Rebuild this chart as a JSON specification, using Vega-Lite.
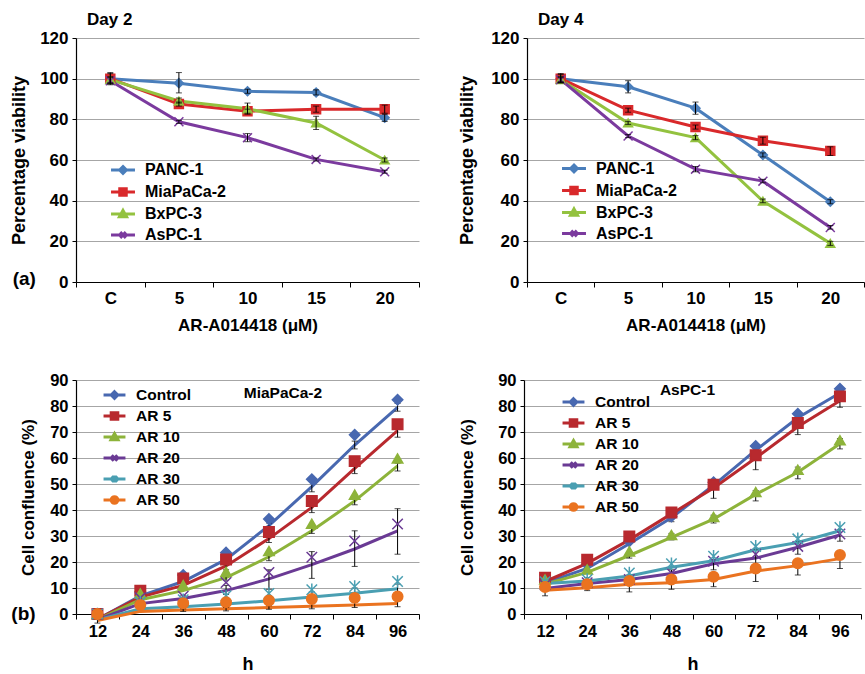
{
  "$schema": "https://vega.github.io/schema/vega-lite/v6.json",
  "padding": {"left": 10, "top": 11, "right": 0, "bottom": 0},
  "background": "white",
  "config": {
    "font": "Liberation Sans",
    "view": {"stroke": null},
    "axis": {"labelFont": "Liberation Sans", "labelFontWeight": "bold", "labelFontSize": 17, "labelColor": "#000", "titleFont": "Liberation Sans", "titleFontWeight": "bold", "titleColor": "#000", "domainColor": "#000", "domainWidth": 1.2, "tickColor": "#000", "gridColor": "#A6A6A6", "gridWidth": 1},
    "legend": {"labelFont": "Liberation Sans", "labelFontWeight": "bold", "labelFontSize": 16, "labelColor": "#000", "symbolSize": 441, "symbolStrokeWidth": 3, "labelOffset": 10, "rowPadding": 0, "orient": "none"},
    "title": {"font": "Liberation Sans", "fontWeight": "bold", "color": "#000"}
  },
  "datasets": {
    "d2": [
      {"s": "PANC-1", "c": "C", "v": 100, "lo": 97, "hi": 103},
      {"s": "PANC-1", "c": "5", "v": 97.8, "lo": 93, "hi": 103},
      {"s": "PANC-1", "c": "10", "v": 93.8, "lo": 92.8, "hi": 94.8},
      {"s": "PANC-1", "c": "15", "v": 93.2, "lo": 92, "hi": 94.5},
      {"s": "PANC-1", "c": "20", "v": 80.8, "lo": 79, "hi": 82.5},
      {"s": "MiaPaCa-2", "c": "C", "v": 100, "lo": 97.5, "hi": 102.5},
      {"s": "MiaPaCa-2", "c": "5", "v": 87.5, "lo": 86.5, "hi": 88.5},
      {"s": "MiaPaCa-2", "c": "10", "v": 84, "lo": 83, "hi": 85},
      {"s": "MiaPaCa-2", "c": "15", "v": 85, "lo": 83.5, "hi": 86.5},
      {"s": "MiaPaCa-2", "c": "20", "v": 85, "lo": 83, "hi": 87},
      {"s": "BxPC-3", "c": "C", "v": 99.5, "lo": 98, "hi": 101},
      {"s": "BxPC-3", "c": "5", "v": 89, "lo": 88, "hi": 90.5},
      {"s": "BxPC-3", "c": "10", "v": 85.2, "lo": 82.5, "hi": 88},
      {"s": "BxPC-3", "c": "15", "v": 78.2, "lo": 75, "hi": 81.5},
      {"s": "BxPC-3", "c": "20", "v": 60, "lo": 59, "hi": 61},
      {"s": "AsPC-1", "c": "C", "v": 99, "lo": 97.5, "hi": 100.5},
      {"s": "AsPC-1", "c": "5", "v": 78.8, "lo": 78, "hi": 79.5},
      {"s": "AsPC-1", "c": "10", "v": 71, "lo": 69, "hi": 73},
      {"s": "AsPC-1", "c": "15", "v": 60.3, "lo": 59.5, "hi": 61},
      {"s": "AsPC-1", "c": "20", "v": 54.2, "lo": 53.5, "hi": 55}
    ],
    "d4": [
      {"s": "PANC-1", "c": "C", "v": 100, "lo": 98, "hi": 102.5},
      {"s": "PANC-1", "c": "5", "v": 96, "lo": 93, "hi": 99},
      {"s": "PANC-1", "c": "10", "v": 85.5, "lo": 82.5, "hi": 88.5},
      {"s": "PANC-1", "c": "15", "v": 62.5, "lo": 61.5, "hi": 63.5},
      {"s": "PANC-1", "c": "20", "v": 39.5, "lo": 38.5, "hi": 40.5},
      {"s": "MiaPaCa-2", "c": "C", "v": 100, "lo": 98, "hi": 102},
      {"s": "MiaPaCa-2", "c": "5", "v": 84.5, "lo": 83.5, "hi": 85.5},
      {"s": "MiaPaCa-2", "c": "10", "v": 76.2, "lo": 75.2, "hi": 77.2},
      {"s": "MiaPaCa-2", "c": "15", "v": 69.5, "lo": 67.8, "hi": 71.2},
      {"s": "MiaPaCa-2", "c": "20", "v": 64.5, "lo": 62.2, "hi": 66.5},
      {"s": "BxPC-3", "c": "C", "v": 99.5, "lo": 98.5, "hi": 100.5},
      {"s": "BxPC-3", "c": "5", "v": 78.2, "lo": 77.5, "hi": 79},
      {"s": "BxPC-3", "c": "10", "v": 71, "lo": 70, "hi": 72},
      {"s": "BxPC-3", "c": "15", "v": 39.8, "lo": 39, "hi": 40.8},
      {"s": "BxPC-3", "c": "20", "v": 19, "lo": 18, "hi": 20},
      {"s": "AsPC-1", "c": "C", "v": 99.5, "lo": 98, "hi": 101},
      {"s": "AsPC-1", "c": "5", "v": 71.8, "lo": 71, "hi": 72.5},
      {"s": "AsPC-1", "c": "10", "v": 55.5, "lo": 54.2, "hi": 56.8},
      {"s": "AsPC-1", "c": "15", "v": 49.6, "lo": 48.8, "hi": 50.5},
      {"s": "AsPC-1", "c": "20", "v": 26.8, "lo": 26, "hi": 27.8}
    ],
    "mia": [
      {"s": "Control", "h": 12, "v": 0, "f": -2},
      {"s": "Control", "h": 24, "v": 8.5, "f": 7},
      {"s": "Control", "h": 36, "v": 15, "f": 12.5},
      {"s": "Control", "h": 48, "v": 23.6, "f": 21},
      {"s": "Control", "h": 60, "v": 36.5, "f": 34},
      {"s": "Control", "h": 72, "v": 51.8, "f": 49},
      {"s": "Control", "h": 84, "v": 68.9, "f": 65},
      {"s": "Control", "h": 96, "v": 82.4, "f": 79.5},
      {"s": "AR 5", "h": 12, "v": 0, "f": -2},
      {"s": "AR 5", "h": 24, "v": 8.9, "f": 6.5},
      {"s": "AR 5", "h": 36, "v": 13.7, "f": 11},
      {"s": "AR 5", "h": 48, "v": 21, "f": 18.5},
      {"s": "AR 5", "h": 60, "v": 31.5, "f": 29},
      {"s": "AR 5", "h": 72, "v": 43.5, "f": 41},
      {"s": "AR 5", "h": 84, "v": 58.8, "f": 56},
      {"s": "AR 5", "h": 96, "v": 73, "f": 70.5},
      {"s": "AR 10", "h": 12, "v": 0, "f": -2.2},
      {"s": "AR 10", "h": 24, "v": 7.9, "f": 5.5},
      {"s": "AR 10", "h": 36, "v": 11.1, "f": 9},
      {"s": "AR 10", "h": 48, "v": 16.2, "f": 14},
      {"s": "AR 10", "h": 60, "v": 24.2, "f": 22},
      {"s": "AR 10", "h": 72, "v": 34.7, "f": 32},
      {"s": "AR 10", "h": 84, "v": 45.9, "f": 43.5},
      {"s": "AR 10", "h": 96, "v": 59.8, "f": 57},
      {"s": "AR 20", "h": 12, "v": 0, "f": -2.2},
      {"s": "AR 20", "h": 24, "v": 6.2, "f": 4},
      {"s": "AR 20", "h": 36, "v": 6.8, "f": 6},
      {"s": "AR 20", "h": 48, "v": 12.1, "f": 9},
      {"s": "AR 20", "h": 60, "v": 16, "f": 13.5},
      {"s": "AR 20", "h": 72, "v": 21.8, "f": 19},
      {"s": "AR 20", "h": 84, "v": 28.1, "f": 25},
      {"s": "AR 20", "h": 96, "v": 34.6, "f": 32},
      {"s": "AR 30", "h": 12, "v": 0, "f": -2.3},
      {"s": "AR 30", "h": 24, "v": 4.5, "f": 2},
      {"s": "AR 30", "h": 36, "v": 5.5, "f": 2.8},
      {"s": "AR 30", "h": 48, "v": 7, "f": 3.8},
      {"s": "AR 30", "h": 60, "v": 7.9, "f": 5.1},
      {"s": "AR 30", "h": 72, "v": 9.3, "f": 6.5},
      {"s": "AR 30", "h": 84, "v": 10.6, "f": 8},
      {"s": "AR 30", "h": 96, "v": 12.5, "f": 9.7},
      {"s": "AR 50", "h": 12, "v": 0, "f": -2.5},
      {"s": "AR 50", "h": 24, "v": 3.5, "f": 1},
      {"s": "AR 50", "h": 36, "v": 4.1, "f": 1.5},
      {"s": "AR 50", "h": 48, "v": 4.5, "f": 2},
      {"s": "AR 50", "h": 60, "v": 5.2, "f": 2.5},
      {"s": "AR 50", "h": 72, "v": 5.8, "f": 3},
      {"s": "AR 50", "h": 84, "v": 6.2, "f": 3.5},
      {"s": "AR 50", "h": 96, "v": 6.7, "f": 4}
    ],
    "miaErr": [
      {"s": "Control", "h": 48, "lo": 20, "hi": 22},
      {"s": "Control", "h": 60, "lo": 33, "hi": 35},
      {"s": "Control", "h": 72, "lo": 47, "hi": 51},
      {"s": "Control", "h": 84, "lo": 63.5, "hi": 66.5},
      {"s": "Control", "h": 96, "lo": 78, "hi": 81},
      {"s": "AR 5", "h": 48, "lo": 17, "hi": 19},
      {"s": "AR 5", "h": 60, "lo": 27.5, "hi": 30},
      {"s": "AR 5", "h": 72, "lo": 39, "hi": 42},
      {"s": "AR 5", "h": 84, "lo": 54, "hi": 57.5},
      {"s": "AR 5", "h": 96, "lo": 68, "hi": 71},
      {"s": "AR 10", "h": 48, "lo": 13, "hi": 15},
      {"s": "AR 10", "h": 60, "lo": 20.5, "hi": 23},
      {"s": "AR 10", "h": 72, "lo": 31, "hi": 33.5},
      {"s": "AR 10", "h": 84, "lo": 42, "hi": 44.5},
      {"s": "AR 10", "h": 96, "lo": 55, "hi": 58},
      {"s": "AR 20", "h": 36, "lo": 5, "hi": 7},
      {"s": "AR 20", "h": 48, "lo": 7.5, "hi": 11},
      {"s": "AR 20", "h": 60, "lo": 9.5, "hi": 17},
      {"s": "AR 20", "h": 72, "lo": 13.7, "hi": 24},
      {"s": "AR 20", "h": 84, "lo": 18.3, "hi": 32},
      {"s": "AR 20", "h": 96, "lo": 23, "hi": 40.5},
      {"s": "AR 30", "h": 48, "lo": 2.5, "hi": 5},
      {"s": "AR 30", "h": 60, "lo": 3.5, "hi": 7},
      {"s": "AR 30", "h": 72, "lo": 5, "hi": 8.5},
      {"s": "AR 30", "h": 84, "lo": 6.5, "hi": 10},
      {"s": "AR 30", "h": 96, "lo": 8, "hi": 11.5},
      {"s": "AR 50", "h": 12, "lo": -3.5, "hi": -1},
      {"s": "AR 50", "h": 36, "lo": 1, "hi": 2},
      {"s": "AR 50", "h": 48, "lo": 1.2, "hi": 2.5},
      {"s": "AR 50", "h": 60, "lo": 1.8, "hi": 3.2},
      {"s": "AR 50", "h": 72, "lo": 2, "hi": 4},
      {"s": "AR 50", "h": 84, "lo": 2.5, "hi": 4.5},
      {"s": "AR 50", "h": 96, "lo": 2.8, "hi": 5}
    ],
    "as": [
      {"s": "Control", "h": 12, "v": 13, "f": 12},
      {"s": "Control", "h": 24, "v": 19, "f": 17.5},
      {"s": "Control", "h": 36, "v": 28, "f": 27},
      {"s": "Control", "h": 48, "v": 37.5, "f": 37},
      {"s": "Control", "h": 60, "v": 50.7, "f": 49.5},
      {"s": "Control", "h": 72, "v": 64.6, "f": 63},
      {"s": "Control", "h": 84, "v": 77, "f": 75.5},
      {"s": "Control", "h": 96, "v": 86.6, "f": 85},
      {"s": "AR 5", "h": 12, "v": 13.9, "f": 12.5},
      {"s": "AR 5", "h": 24, "v": 20.9, "f": 19.5},
      {"s": "AR 5", "h": 36, "v": 29.8, "f": 28.5},
      {"s": "AR 5", "h": 48, "v": 39, "f": 38.5},
      {"s": "AR 5", "h": 60, "v": 49.7, "f": 48.5},
      {"s": "AR 5", "h": 72, "v": 61.1, "f": 60},
      {"s": "AR 5", "h": 84, "v": 73.5, "f": 72},
      {"s": "AR 5", "h": 96, "v": 83.7, "f": 82},
      {"s": "AR 10", "h": 12, "v": 13.3, "f": 11.5},
      {"s": "AR 10", "h": 24, "v": 17.1, "f": 16},
      {"s": "AR 10", "h": 36, "v": 24.1, "f": 22.5},
      {"s": "AR 10", "h": 48, "v": 30.4, "f": 29.5},
      {"s": "AR 10", "h": 60, "v": 37.3, "f": 36.5},
      {"s": "AR 10", "h": 72, "v": 46.9, "f": 46},
      {"s": "AR 10", "h": 84, "v": 55.5, "f": 54.5},
      {"s": "AR 10", "h": 96, "v": 66.8, "f": 65.5},
      {"s": "AR 20", "h": 12, "v": 11.2, "f": 9.8},
      {"s": "AR 20", "h": 24, "v": 12, "f": 11.7},
      {"s": "AR 20", "h": 36, "v": 13.3, "f": 13.3},
      {"s": "AR 20", "h": 48, "v": 15.8, "f": 15.6},
      {"s": "AR 20", "h": 60, "v": 20.3, "f": 19.3},
      {"s": "AR 20", "h": 72, "v": 23, "f": 21.5},
      {"s": "AR 20", "h": 84, "v": 26, "f": 25.7},
      {"s": "AR 20", "h": 96, "v": 30.8, "f": 30.4},
      {"s": "AR 30", "h": 12, "v": 12.4, "f": 11.7},
      {"s": "AR 30", "h": 24, "v": 13.3, "f": 12.7},
      {"s": "AR 30", "h": 36, "v": 15.8, "f": 14.6},
      {"s": "AR 30", "h": 48, "v": 19.3, "f": 18},
      {"s": "AR 30", "h": 60, "v": 22.2, "f": 20.5},
      {"s": "AR 30", "h": 72, "v": 26, "f": 24.7},
      {"s": "AR 30", "h": 84, "v": 28.9, "f": 27.5},
      {"s": "AR 30", "h": 96, "v": 33.3, "f": 32},
      {"s": "AR 50", "h": 12, "v": 10.4, "f": 9.1},
      {"s": "AR 50", "h": 24, "v": 11.4, "f": 10.1},
      {"s": "AR 50", "h": 36, "v": 12.7, "f": 11.4},
      {"s": "AR 50", "h": 48, "v": 13.3, "f": 12},
      {"s": "AR 50", "h": 60, "v": 14.3, "f": 13.3},
      {"s": "AR 50", "h": 72, "v": 17.5, "f": 16.5},
      {"s": "AR 50", "h": 84, "v": 19.5, "f": 18.6},
      {"s": "AR 50", "h": 96, "v": 22.7, "f": 21.3}
    ],
    "asErr": [
      {"s": "Control", "h": 48, "lo": 35.5, "hi": 38.5},
      {"s": "Control", "h": 60, "lo": 44.5, "hi": 50},
      {"s": "Control", "h": 72, "lo": 55.5, "hi": 62.5},
      {"s": "Control", "h": 84, "lo": 69, "hi": 75},
      {"s": "Control", "h": 96, "lo": 79.5, "hi": 85},
      {"s": "AR 10", "h": 36, "lo": 21.5, "hi": 24},
      {"s": "AR 10", "h": 48, "lo": 28.5, "hi": 31},
      {"s": "AR 10", "h": 60, "lo": 35, "hi": 38},
      {"s": "AR 10", "h": 72, "lo": 43.5, "hi": 47.5},
      {"s": "AR 10", "h": 84, "lo": 52, "hi": 56.5},
      {"s": "AR 10", "h": 96, "lo": 63.5, "hi": 67.5},
      {"s": "AR 20", "h": 24, "lo": 11, "hi": 14},
      {"s": "AR 20", "h": 36, "lo": 12, "hi": 15},
      {"s": "AR 20", "h": 48, "lo": 14, "hi": 17},
      {"s": "AR 20", "h": 60, "lo": 17, "hi": 21},
      {"s": "AR 20", "h": 72, "lo": 19, "hi": 25},
      {"s": "AR 20", "h": 84, "lo": 23, "hi": 28},
      {"s": "AR 20", "h": 96, "lo": 28, "hi": 32.5},
      {"s": "AR 50", "h": 12, "lo": 7, "hi": 10},
      {"s": "AR 50", "h": 24, "lo": 9, "hi": 12},
      {"s": "AR 50", "h": 36, "lo": 8.5, "hi": 12},
      {"s": "AR 50", "h": 48, "lo": 9.5, "hi": 13},
      {"s": "AR 50", "h": 60, "lo": 10.5, "hi": 14.5},
      {"s": "AR 50", "h": 72, "lo": 12.5, "hi": 18},
      {"s": "AR 50", "h": 84, "lo": 15, "hi": 20},
      {"s": "AR 50", "h": 96, "lo": 17.5, "hi": 23}
    ]
  },
  "vconcat": [
    {
      "hconcat": [
        {
          "name": "p1",
          "width": 343, "height": 244,
          "title": {"text": "Day 2", "anchor": "start", "frame": "group", "dx": 11, "fontSize": 17, "offset": 0},
          "data": {"name": "d2"},
          "encoding": {
            "x": {"field": "c", "type": "ordinal", "scale": {"domain": ["C", "5", "10", "15", "20"], "paddingInner": 0, "paddingOuter": 0}, "axis": {"title": "AR-A014418 (μM)", "titleFontSize": 17, "titlePadding": 11, "labelAngle": 0, "tickBand": "extent", "tickSize": 5, "labelPadding": 3, "grid": false}},
            "y": {"field": "v", "type": "quantitative", "scale": {"domain": [0, 120], "nice": false}, "axis": {"values": [0, 20, 40, 60, 80, 100, 120], "title": "Percentage viability", "titleFontSize": 18, "titlePadding": 11, "tickSize": 4, "labelPadding": 4, "grid": true}}
          },
          "layer": [
            {"mark": {"type": "line", "strokeWidth": 3},
             "encoding": {"stroke": {"field": "s", "type": "nominal", "scale": {"domain": ["PANC-1", "MiaPaCa-2", "BxPC-3", "AsPC-1"], "range": ["#4A7EBB", "#D9292B", "#93C23F", "#7B3A9E"]}, "legend": null}}},
            {"mark": {"type": "point", "filled": true, "opacity": 1, "size": 80, "strokeWidth": 1.5},
             "encoding": {
               "fill": {"field": "s", "type": "nominal", "scale": {"domain": ["PANC-1", "MiaPaCa-2", "BxPC-3", "AsPC-1"], "range": ["#4A7EBB", "#D9292B", "#93C23F", "#7B3A9E"]}, "legend": null},
               "stroke": {"field": "s", "type": "nominal", "scale": {"domain": ["PANC-1", "MiaPaCa-2", "BxPC-3", "AsPC-1"], "range": ["#4A7EBB", "#D9292B", "#93C23F", "#7B3A9E"]}, "legend": null},
               "shape": {"field": "s", "type": "nominal", "scale": {"domain": ["PANC-1", "MiaPaCa-2", "BxPC-3", "AsPC-1"], "range": ["diamond", "square", "triangle-up", "M-1,-1L1,1M-1,1L1,-1"]}, "legend": null}}},
            {"mark": {"type": "errorbar", "ticks": {"size": 6}, "color": "#000", "thickness": 1},
             "encoding": {"y": {"field": "lo", "type": "quantitative"}, "y2": {"field": "hi"}}},
            {"transform": [{"filter": "false"}],
             "mark": {"type": "point", "filled": true, "opacity": 1},
             "encoding": {
               "fill": {"field": "s", "type": "nominal", "scale": {"domain": ["PANC-1", "MiaPaCa-2", "BxPC-3", "AsPC-1"], "range": ["#4A7EBB", "#D9292B", "#93C23F", "#7B3A9E"]}, "legend": {"title": null, "legendX": 35, "legendY": 120}},
               "stroke": {"field": "s", "type": "nominal", "scale": {"domain": ["PANC-1", "MiaPaCa-2", "BxPC-3", "AsPC-1"], "range": ["#4A7EBB", "#D9292B", "#93C23F", "#7B3A9E"]}, "legend": {"title": null, "legendX": 35, "legendY": 120}},
               "shape": {"field": "s", "type": "nominal", "scale": {"domain": ["PANC-1", "MiaPaCa-2", "BxPC-3", "AsPC-1"], "range": ["M-1.14,0H1.14M0,-0.32L0.32,0L0,0.32L-0.32,0Z", "M-1.14,0H1.14M-0.31,-0.31H0.31V0.31H-0.31Z", "M-1.14,0H1.14M0,-0.34L0.34,0.27H-0.34Z", "M-1.14,0H1.14M-0.27,-0.27L0.27,0.27M-0.27,0.27L0.27,-0.27"]}, "legend": {"title": null, "legendX": 35, "legendY": 120}}}},
            {"data": {"values": [{"t": "(a)", "c": "C", "v": 0}]},
             "mark": {"type": "text", "fontSize": 19, "fontWeight": "bold", "color": "#000", "dx": -86, "dy": -3, "align": "center", "baseline": "middle"},
             "encoding": {"text": {"field": "t"}}}
          ],
          "resolve": {"scale": {"fill": "independent", "stroke": "independent", "shape": "independent"}}
        },
        {
          "name": "p2",
          "width": 337, "height": 244,
          "title": {"text": "Day 4", "anchor": "start", "frame": "group", "dx": 11, "fontSize": 17, "offset": 0},
          "data": {"name": "d4"},
          "encoding": {
            "x": {"field": "c", "type": "ordinal", "scale": {"domain": ["C", "5", "10", "15", "20"], "paddingInner": 0, "paddingOuter": 0}, "axis": {"title": "AR-A014418 (μM)", "titleFontSize": 17, "titlePadding": 11, "labelAngle": 0, "tickBand": "extent", "tickSize": 5, "labelPadding": 3, "grid": false}},
            "y": {"field": "v", "type": "quantitative", "scale": {"domain": [0, 120], "nice": false}, "axis": {"values": [0, 20, 40, 60, 80, 100, 120], "title": "Percentage viability", "titleFontSize": 18, "titlePadding": 14, "tickSize": 4, "labelPadding": 4, "grid": true}}
          },
          "layer": [
            {"mark": {"type": "line", "strokeWidth": 3},
             "encoding": {"stroke": {"field": "s", "type": "nominal", "scale": {"domain": ["PANC-1", "MiaPaCa-2", "BxPC-3", "AsPC-1"], "range": ["#4A7EBB", "#D9292B", "#93C23F", "#7B3A9E"]}, "legend": null}}},
            {"mark": {"type": "point", "filled": true, "opacity": 1, "size": 80, "strokeWidth": 1.5},
             "encoding": {
               "fill": {"field": "s", "type": "nominal", "scale": {"domain": ["PANC-1", "MiaPaCa-2", "BxPC-3", "AsPC-1"], "range": ["#4A7EBB", "#D9292B", "#93C23F", "#7B3A9E"]}, "legend": null},
               "stroke": {"field": "s", "type": "nominal", "scale": {"domain": ["PANC-1", "MiaPaCa-2", "BxPC-3", "AsPC-1"], "range": ["#4A7EBB", "#D9292B", "#93C23F", "#7B3A9E"]}, "legend": null},
               "shape": {"field": "s", "type": "nominal", "scale": {"domain": ["PANC-1", "MiaPaCa-2", "BxPC-3", "AsPC-1"], "range": ["diamond", "square", "triangle-up", "M-1,-1L1,1M-1,1L1,-1"]}, "legend": null}}},
            {"mark": {"type": "errorbar", "ticks": {"size": 6}, "color": "#000", "thickness": 1},
             "encoding": {"y": {"field": "lo", "type": "quantitative"}, "y2": {"field": "hi"}}},
            {"transform": [{"filter": "false"}],
             "mark": {"type": "point", "filled": true, "opacity": 1},
             "encoding": {
               "fill": {"field": "s", "type": "nominal", "scale": {"domain": ["PANC-1", "MiaPaCa-2", "BxPC-3", "AsPC-1"], "range": ["#4A7EBB", "#D9292B", "#93C23F", "#7B3A9E"]}, "legend": {"title": null, "legendX": 35, "legendY": 118.5}},
               "stroke": {"field": "s", "type": "nominal", "scale": {"domain": ["PANC-1", "MiaPaCa-2", "BxPC-3", "AsPC-1"], "range": ["#4A7EBB", "#D9292B", "#93C23F", "#7B3A9E"]}, "legend": {"title": null, "legendX": 35, "legendY": 118.5}},
               "shape": {"field": "s", "type": "nominal", "scale": {"domain": ["PANC-1", "MiaPaCa-2", "BxPC-3", "AsPC-1"], "range": ["M-1.14,0H1.14M0,-0.32L0.32,0L0,0.32L-0.32,0Z", "M-1.14,0H1.14M-0.31,-0.31H0.31V0.31H-0.31Z", "M-1.14,0H1.14M0,-0.34L0.34,0.27H-0.34Z", "M-1.14,0H1.14M-0.27,-0.27L0.27,0.27M-0.27,0.27L0.27,-0.27"]}, "legend": {"title": null, "legendX": 35, "legendY": 118.5}}}}
          ],
          "resolve": {"scale": {"fill": "independent", "stroke": "independent", "shape": "independent"}}
        }
      ],
      "spacing": 38
    },
    {
      "hconcat": [
        {
          "name": "p3",
          "width": 343, "height": 234,
          "encoding": {
            "x": {"field": "h", "type": "ordinal", "scale": {"domain": [12, 24, 36, 48, 60, 72, 84, 96], "paddingInner": 0, "paddingOuter": 0}, "axis": {"title": "h", "titleFontSize": 18, "titlePadding": 16, "labelAngle": 0, "labelFontSize": 16.5, "tickBand": "extent", "tickSize": 5, "labelPadding": 4, "grid": false}},
            "y": {"type": "quantitative", "scale": {"domain": [0, 90], "nice": false}, "axis": {"values": [0, 10, 20, 30, 40, 50, 60, 70, 80, 90], "title": "Cell confluence (%)", "titleFontSize": 17, "titlePadding": 12, "labelFontSize": 16.5, "tickSize": 4, "labelPadding": 4, "grid": true}}
          },
          "layer": [
            {"data": {"name": "mia"},
             "mark": {"type": "line", "strokeWidth": 3},
             "encoding": {"y": {"field": "f", "type": "quantitative"}, "stroke": {"field": "s", "type": "nominal", "scale": {"domain": ["Control", "AR 5", "AR 10", "AR 20", "AR 30", "AR 50"], "range": ["#4868B0", "#B8292E", "#8DB33A", "#6A3A94", "#4A9FB2", "#EA7320"]}, "legend": null}}},
            {"data": {"name": "miaErr"},
             "mark": {"type": "errorbar", "ticks": {"size": 6}, "color": "#000", "thickness": 1},
             "encoding": {"y": {"field": "lo", "type": "quantitative"}, "y2": {"field": "hi"}}},
            {"data": {"name": "mia"},
             "mark": {"type": "point", "filled": true, "opacity": 1, "size": 110, "strokeWidth": 1.5},
             "encoding": {
               "y": {"field": "v", "type": "quantitative"},
               "fill": {"field": "s", "type": "nominal", "scale": {"domain": ["Control", "AR 5", "AR 10", "AR 20", "AR 30", "AR 50"], "range": ["#4868B0", "#B8292E", "#8DB33A", "#6A3A94", "#4A9FB2", "#EA7320"]}, "legend": null},
               "stroke": {"field": "s", "type": "nominal", "scale": {"domain": ["Control", "AR 5", "AR 10", "AR 20", "AR 30", "AR 50"], "range": ["#4868B0", "#B8292E", "#8DB33A", "#6A3A94", "#4A9FB2", "#EA7320"]}, "legend": null},
               "shape": {"field": "s", "type": "nominal", "scale": {"domain": ["Control", "AR 5", "AR 10", "AR 20", "AR 30", "AR 50"], "range": ["diamond", "square", "triangle-up", "M-1,-1L1,1M-1,1L1,-1", "M-1,-1L1,1M-1,1L1,-1M0,-1.2V1.2", "circle"]}, "legend": null}}},
            {"data": {"name": "mia"},
             "transform": [{"filter": "false"}],
             "mark": {"type": "point", "filled": true, "opacity": 1},
             "encoding": {
               "y": {"field": "v", "type": "quantitative"},
               "fill": {"field": "s", "type": "nominal", "scale": {"domain": ["Control", "AR 5", "AR 10", "AR 20", "AR 30", "AR 50"], "range": ["#4868B0", "#B8292E", "#8DB33A", "#6A3A94", "#4A9FB2", "#EA7320"]}, "legend": {"title": null, "legendX": 27, "legendY": 3.5, "symbolSize": 376, "labelFontSize": 15.5}},
               "stroke": {"field": "s", "type": "nominal", "scale": {"domain": ["Control", "AR 5", "AR 10", "AR 20", "AR 30", "AR 50"], "range": ["#4868B0", "#B8292E", "#8DB33A", "#6A3A94", "#4A9FB2", "#EA7320"]}, "legend": {"title": null, "legendX": 27, "legendY": 3.5, "symbolSize": 376, "labelFontSize": 15.5}},
               "shape": {"field": "s", "type": "nominal", "scale": {"domain": ["Control", "AR 5", "AR 10", "AR 20", "AR 30", "AR 50"], "range": ["M-1.13,0H1.13M0,-0.34L0.34,0L0,0.34L-0.34,0Z", "M-1.13,0H1.13M-0.34,-0.34H0.34V0.34H-0.34Z", "M-1.13,0H1.13M0,-0.36L0.36,0.29H-0.36Z", "M-1.13,0H1.13M-0.29,-0.29L0.29,0.29M-0.29,0.29L0.29,-0.29", "M-1.13,0H1.13M-0.29,-0.29L0.29,0.29M-0.29,0.29L0.29,-0.29M0,-0.36V0.36", "M-1.13,0H1.13M0.34,0A0.34,0.34,0,1,1,-0.34,0A0.34,0.34,0,1,1,0.34,0Z"]}, "legend": {"title": null, "legendX": 27, "legendY": 3.5, "symbolSize": 376, "labelFontSize": 15.5}}}},
            {"data": {"values": [{"t": "MiaPaCa-2"}]},
             "mark": {"type": "text", "fontSize": 15.5, "fontWeight": "bold", "color": "#000", "dx": 14, "align": "center", "baseline": "middle"},
             "encoding": {"x": {"datum": 60}, "y": {"datum": 85}, "text": {"field": "t"}}},
            {"data": {"values": [{"t": "(b)", "h": 12, "v": 0}]},
             "mark": {"type": "text", "fontSize": 19, "fontWeight": "bold", "color": "#000", "dx": -74, "align": "center", "baseline": "middle"},
             "encoding": {"y": {"field": "v", "type": "quantitative"}, "text": {"field": "t"}}}
          ],
          "resolve": {"scale": {"fill": "independent", "stroke": "independent", "shape": "independent"}}
        },
        {
          "name": "p4",
          "width": 337, "height": 234,
          "encoding": {
            "x": {"field": "h", "type": "ordinal", "scale": {"domain": [12, 24, 36, 48, 60, 72, 84, 96], "paddingInner": 0, "paddingOuter": 0}, "axis": {"title": "h", "titleFontSize": 18, "titlePadding": 16, "labelAngle": 0, "labelFontSize": 16.5, "tickBand": "extent", "tickSize": 5, "labelPadding": 4, "grid": false}},
            "y": {"type": "quantitative", "scale": {"domain": [0, 90], "nice": false}, "axis": {"values": [0, 10, 20, 30, 40, 50, 60, 70, 80, 90], "title": "Cell confluence (%)", "titleFontSize": 17, "titlePadding": 21, "labelFontSize": 16.5, "tickSize": 4, "labelPadding": 4, "grid": true}}
          },
          "layer": [
            {"data": {"name": "as"},
             "mark": {"type": "line", "strokeWidth": 3},
             "encoding": {"y": {"field": "f", "type": "quantitative"}, "stroke": {"field": "s", "type": "nominal", "scale": {"domain": ["Control", "AR 5", "AR 10", "AR 20", "AR 30", "AR 50"], "range": ["#4868B0", "#B8292E", "#8DB33A", "#6A3A94", "#4A9FB2", "#EA7320"]}, "legend": null}}},
            {"data": {"name": "asErr"},
             "mark": {"type": "errorbar", "ticks": {"size": 6}, "color": "#000", "thickness": 1},
             "encoding": {"y": {"field": "lo", "type": "quantitative"}, "y2": {"field": "hi"}}},
            {"data": {"name": "as"},
             "mark": {"type": "point", "filled": true, "opacity": 1, "size": 110, "strokeWidth": 1.5},
             "encoding": {
               "y": {"field": "v", "type": "quantitative"},
               "fill": {"field": "s", "type": "nominal", "scale": {"domain": ["Control", "AR 5", "AR 10", "AR 20", "AR 30", "AR 50"], "range": ["#4868B0", "#B8292E", "#8DB33A", "#6A3A94", "#4A9FB2", "#EA7320"]}, "legend": null},
               "stroke": {"field": "s", "type": "nominal", "scale": {"domain": ["Control", "AR 5", "AR 10", "AR 20", "AR 30", "AR 50"], "range": ["#4868B0", "#B8292E", "#8DB33A", "#6A3A94", "#4A9FB2", "#EA7320"]}, "legend": null},
               "shape": {"field": "s", "type": "nominal", "scale": {"domain": ["Control", "AR 5", "AR 10", "AR 20", "AR 30", "AR 50"], "range": ["diamond", "square", "triangle-up", "M-1,-1L1,1M-1,1L1,-1", "M-1,-1L1,1M-1,1L1,-1M0,-1.2V1.2", "circle"]}, "legend": null}}},
            {"data": {"name": "as"},
             "transform": [{"filter": "false"}],
             "mark": {"type": "point", "filled": true, "opacity": 1},
             "encoding": {
               "y": {"field": "v", "type": "quantitative"},
               "fill": {"field": "s", "type": "nominal", "scale": {"domain": ["Control", "AR 5", "AR 10", "AR 20", "AR 30", "AR 50"], "range": ["#4868B0", "#B8292E", "#8DB33A", "#6A3A94", "#4A9FB2", "#EA7320"]}, "legend": {"title": null, "legendX": 38, "legendY": 10.5, "symbolSize": 376, "labelFontSize": 15.5}},
               "stroke": {"field": "s", "type": "nominal", "scale": {"domain": ["Control", "AR 5", "AR 10", "AR 20", "AR 30", "AR 50"], "range": ["#4868B0", "#B8292E", "#8DB33A", "#6A3A94", "#4A9FB2", "#EA7320"]}, "legend": {"title": null, "legendX": 38, "legendY": 10.5, "symbolSize": 376, "labelFontSize": 15.5}},
               "shape": {"field": "s", "type": "nominal", "scale": {"domain": ["Control", "AR 5", "AR 10", "AR 20", "AR 30", "AR 50"], "range": ["M-1.13,0H1.13M0,-0.34L0.34,0L0,0.34L-0.34,0Z", "M-1.13,0H1.13M-0.34,-0.34H0.34V0.34H-0.34Z", "M-1.13,0H1.13M0,-0.36L0.36,0.29H-0.36Z", "M-1.13,0H1.13M-0.29,-0.29L0.29,0.29M-0.29,0.29L0.29,-0.29", "M-1.13,0H1.13M-0.29,-0.29L0.29,0.29M-0.29,0.29L0.29,-0.29M0,-0.36V0.36", "M-1.13,0H1.13M0.34,0A0.34,0.34,0,1,1,-0.34,0A0.34,0.34,0,1,1,0.34,0Z"]}, "legend": {"title": null, "legendX": 38, "legendY": 10.5, "symbolSize": 376, "labelFontSize": 15.5}}}},
            {"data": {"values": [{"t": "AsPC-1"}]},
             "mark": {"type": "text", "fontSize": 15.5, "fontWeight": "bold", "color": "#000", "dx": 16, "align": "center", "baseline": "middle"},
             "encoding": {"x": {"datum": 48}, "y": {"datum": 86}, "text": {"field": "t"}}}
          ],
          "resolve": {"scale": {"fill": "independent", "stroke": "independent", "shape": "independent"}}
        }
      ],
      "spacing": 38
    }
  ],
  "spacing": 39
}
